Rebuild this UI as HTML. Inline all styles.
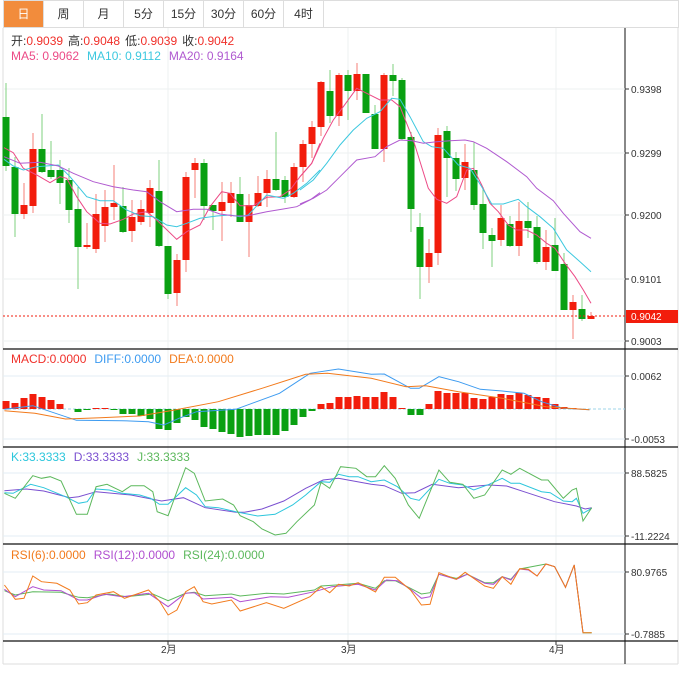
<!DOCTYPE html>
<html><head><meta charset="utf-8"><style>
body{margin:0;background:#fff;width:683px;height:673px;overflow:hidden;font-family:"Liberation Sans","Noto Sans CJK SC",sans-serif}
.tabs{position:absolute;left:3px;top:0;height:27px;display:flex;border-bottom:1px solid #ddd}
.tabs div{width:39px;height:26px;border:1px solid #ddd;border-left:none;text-align:center;line-height:26px;font-size:12px;color:#333;background:#fff}
.tabs div.on{background:#f28c3c;color:#fff}
svg{position:absolute;left:0;top:0}
</style></head><body>
<div class="tabs"><div class="on" style="border-left:1px solid #ddd">日</div><div>周</div><div>月</div><div>5分</div><div>15分</div><div>30分</div><div>60分</div><div>4时</div><div style="width:354px"></div></div>
<svg id="s" width="683" height="673" style="top:0" xmlns="http://www.w3.org/2000/svg" font-family="Liberation Sans, Noto Sans CJK SC, sans-serif" font-size="12"></svg>
<script>
var s=document.getElementById('s'),h='';
function L(x1,y1,x2,y2,c,w,d){h+='<line x1="'+x1+'" y1="'+y1+'" x2="'+x2+'" y2="'+y2+'" stroke="'+c+'" stroke-width="'+(w||1)+'"'+(d?' stroke-dasharray="'+d+'"':'')+'/>';}
function T(x,y,t,c,sz){h+='<text x="'+x+'" y="'+y+'" fill="'+c+'"'+(sz?' font-size="'+sz+'"':'')+'>'+t+'</text>';}
function P(pts,c,sx,ox,sy,oy){h+='<polyline fill="none" stroke="'+c+'" stroke-width="1" points="'+pts.map(function(p){return (ox+p[0]/sx).toFixed(1)+','+(oy+p[1]/sy).toFixed(1)}).join(' ')+'"/>';}
// frame
L(3,28,3,664,'#ddd');L(678,28,678,664,'#ddd');L(3,664,678,664,'#ddd');
L(625,28,625,664,'#111');
[168,348,556].forEach(function(x){L(x,28,x,641,'#eef1f2')});
[89,153,215,279,341].forEach(function(y){L(3,y,625,y,'#eef1f2');L(625,y,629,y,'#333');});
[[89,'0.9398'],[153,'0.9299'],[215,'0.9200'],[279,'0.9101'],[341,'0.9003']].forEach(function(a){T(631,a[0]+4,a[1],'#333',10)});
// candles
var C=[[117,166,83,171,0],[167,214,157,237,0],[205,214,183,219,1],[149,206,133,213,1],[149,172,114,173,0],[170,177,141,179,0],[170,183,160,204,0],[180,210,168,223,0],[209,247,187,289,0],[245,247,223,249,1],[214,249,194,253,1],[207,226,190,242,1],[203,207,165,220,1],[206,232,187,233,0],[217,231,200,242,1],[209,222,200,225,1],[188,213,180,227,1],[191,246,160,247,0],[246,294,246,299,0],[260,293,254,306,1],[177,260,172,272,1],[163,170,158,198,1],[163,206,159,220,0],[205,211,205,230,0],[202,211,182,241,1],[193,203,182,217,1],[194,222,177,222,0],[205,222,194,257,1],[193,206,176,207,1],[179,193,170,207,1],[179,190,132,191,0],[180,197,176,203,0],[167,197,163,198,1],[144,167,140,182,1],[127,144,121,158,1],[82,127,81,136,1],[91,116,70,123,0],[75,116,73,126,1],[75,91,70,120,0],[74,91,63,100,1],[74,113,74,113,0],[114,149,105,149,0],[75,149,73,162,1],[75,81,64,96,0],[80,139,78,140,0],[137,209,132,232,0],[227,267,213,299,0],[253,267,239,283,1],[135,253,128,265,1],[131,158,126,197,0],[158,179,152,191,0],[162,178,144,190,1],[170,205,142,210,0],[204,233,187,249,0],[235,241,228,267,0],[218,240,205,246,1],[224,246,216,247,0],[221,246,202,256,1],[221,228,202,238,0],[227,262,216,264,0],[247,262,230,270,1],[245,271,218,271,0],[264,310,253,310,0],[302,310,295,339,1],[309,319,295,321,0],[316,319,312,319,1]];
C.forEach(function(c,i){var x=6+9*i,col=c[4]?'#f21d0c':'#0aa012',wc=c[4]?'#f57f77':'#7fd07f';
L(x,c[2],x,c[3],wc);h+='<rect x="'+(x-3.5)+'" y="'+c[0]+'" width="7" height="'+Math.max(1.5,c[1]-c[0])+'" fill="'+col+'"/>';});
// MAs
P([[12,263],[40,278],[70,325],[110,345],[150,368],[180,350],[200,355],[230,410],[260,455],[300,490],[330,492],[370,478],[400,462],[440,455],[470,480],[530,538],[560,515],[600,495],[630,440],[665,395],[690,400],[720,437],[760,437],[800,412],[840,410],[870,390],[900,350],[935,310],[960,250]],'#ec4a86',3,0,3,60);
P([[0,350],[35,310],[70,235],[100,180],[130,140],[170,85],[200,100],[240,120],[275,120],[300,140],[340,240],[385,385],[410,418],[440,430],[470,410],[500,330],[520,325],[545,375],[570,430],[595,455],[625,495],[650,510],[680,510],[710,525],[740,550],[765,565],[795,610],[825,650],[850,690],[873,730]],'#ec4a86',3,300,3,60);
P([[12,298],[40,318],[70,330],[110,320],[175,315],[210,350],[260,410],[300,422],[340,422],[380,450],[420,467],[460,470],[500,495],[530,500],[560,490],[600,475],[650,468],[690,465],[720,470],[745,465],[800,405],[850,415],[880,400],[920,370],[960,330]],'#3cc8df',3,0,3,60);
P([[0,390],[40,360],[80,310],[120,255],[160,210],[200,175],[240,155],[275,115],[300,118],[330,170],[370,245],[395,260],[430,265],[475,315],[510,325],[545,380],[575,432],[610,432],[655,418],[680,440],[720,470],[760,505],[800,570],[840,605],[873,635]],'#3cc8df',3,300,3,60);
P([[12,290],[60,310],[120,307],[175,318],[220,340],[280,365],[340,380],[400,390],[440,395],[480,425],[530,455],[580,448],[620,448],[660,462],[700,467],[740,468],[800,455],[850,447],[890,440],[930,420],[960,398]],'#b05ad0',3,0,3,60);
P([[0,432],[40,415],[80,390],[120,350],[170,300],[225,290],[260,260],[300,240],[335,242],[370,250],[410,245],[450,242],[495,240],[520,245],[560,265],[620,305],[680,350],[710,385],[760,422],[790,460],[840,515],[873,535]],'#b05ad0',3,300,3,60);
L(3,316,625,316,'#f21d0c',1,'2,2');
h+='<rect x="626" y="310" width="52" height="13" fill="#f21d0c"/>';T(631,320,'0.9042','#fff',10);
// header text
h+='<text x="11" y="45"><tspan fill="#333">开:</tspan><tspan fill="#f0302a">0.9039</tspan><tspan fill="#333" dx="5">高:</tspan><tspan fill="#f0302a">0.9048</tspan><tspan fill="#333" dx="5">低:</tspan><tspan fill="#f0302a">0.9039</tspan><tspan fill="#333" dx="5">收:</tspan><tspan fill="#f0302a">0.9042</tspan></text>';
h+='<text x="11" y="60"><tspan fill="#ec4a86">MA5: 0.9062</tspan><tspan fill="#3cc8df" dx="8">MA10: 0.9112</tspan><tspan fill="#b05ad0" dx="8">MA20: 0.9164</tspan></text>';
// separators
[349,447,544,641].forEach(function(y){L(3,y,678,y,'#111',1.3)});
// MACD
L(3,376,625,376,'#e3eef4');L(3,439,625,439,'#e3eef4');L(3,409,625,409,'#9fd6ea',1,'3,2');
L(625,376,629,376,'#333');L(625,439,629,439,'#333');
T(631,380,'0.0062','#333',10);T(631,443,'-0.0053','#333',10);
var M=[8,6,11,15,12,9,5,0,-3,-1,1,1,-1,-5,-5,-7,-10,-20,-21,-14,-8,-11,-18,-20,-23,-25,-28,-27,-26,-26,-26,-22,-16,-8,-2,5,6,12,12,13,12,12,17,12,1,-6,-6,5,18,16,16,16,11,10,12,15,14,16,14,12,11,5,2,1,0,0];
M.forEach(function(v,i){if(!v)return;var x=6+9*i;h+='<rect x="'+(x-3.5)+'" y="'+(v>0?409-v:409)+'" width="7" height="'+Math.abs(v)+'" fill="'+(v>0?'#f21d0c':'#0aa012')+'"/>';});
P([[10,193],[75,182],[175,226],[280,227],[340,230],[375,240],[410,220],[450,200],[540,193],[640,145],[710,85],[775,72],[850,88],[880,87],[940,130],[960,130],[1005,95],[1050,110],[1100,133],[1150,138],[1200,145],[1240,170],[1290,190],[1350,194]],'#3d9bf0',2.29,0,3,345);
P([[10,197],[80,205],[150,222],[230,218],[320,213],[400,195],[500,170],[600,130],[700,88],[750,85],[850,100],[930,125],[975,122],[1050,140],[1150,160],[1250,185],[1350,194]],'#f27a1c',2.29,0,3,345);
h+='<text x="11" y="363"><tspan fill="#f0302a">MACD:0.0000</tspan><tspan fill="#3d9bf0" dx="8">DIFF:0.0000</tspan><tspan fill="#f27a1c" dx="8">DEA:0.0000</tspan></text>';
// KDJ
L(3,473,625,473,'#e3eef4');L(3,536,625,536,'#e3eef4');L(625,473,629,473,'#333');L(625,536,629,536,'#333');
T(631,477,'88.5825','#333',10);T(631,540,'-11.2224','#333',10);
P([[10,137],[60,132],[100,138],[160,158],[180,155],[220,140],[300,150],[370,168],[420,158],[470,188],[540,202],[560,202],[600,192],[650,168],[700,130],[740,105],[775,100],[850,118],[880,122],[920,145],[950,143],[990,118],[1050,128],[1100,122],[1120,120],[1160,123],[1200,140],[1270,170],[1320,183],[1340,192],[1355,188]],'#7a4fd0',2.29,0,3,445);
P([[10,143],[30,145],[70,118],[100,128],[150,155],[180,175],[200,170],[220,132],[250,135],[280,145],[320,150],[345,160],[365,178],[385,178],[425,128],[450,150],[470,185],[500,188],[540,200],[590,213],[630,208],[670,180],[700,150],[735,110],[755,112],[775,88],[800,95],[820,95],[850,110],[880,105],[910,125],[940,160],[960,166],[1005,103],[1030,115],[1060,120],[1085,135],[1120,118],[1150,100],[1170,115],[1190,115],[1240,140],[1260,143],[1290,168],[1310,170],[1320,160],[1335,205],[1355,190]],'#2cc6dc',2.29,0,3,445);
P([[10,145],[35,160],[75,92],[95,100],[115,95],[140,108],[175,208],[200,208],[220,125],[245,118],[280,140],[300,122],[330,122],[350,140],[360,200],[385,212],[425,68],[445,85],[470,168],[510,162],[535,180],[550,212],[580,230],[600,252],[630,270],[655,265],[680,230],[720,180],[735,112],[755,130],[780,65],[815,70],[840,95],[860,95],[880,62],[905,100],[935,180],[960,220],[1005,75],[1030,112],[1060,118],[1085,160],[1110,150],[1150,75],[1170,88],[1190,70],[1240,105],[1255,105],[1290,160],[1310,135],[1320,130],[1335,228],[1355,188]],'#5cb85c',2.29,0,3,445);
h+='<text x="11" y="461"><tspan fill="#2cc6dc">K:33.3333</tspan><tspan fill="#7a4fd0" dx="8">D:33.3333</tspan><tspan fill="#5cb85c" dx="8">J:33.3333</tspan></text>';
// RSI
L(3,572,625,572,'#e3eef4');L(3,634,625,634,'#e3eef4');L(625,572,629,572,'#333');L(625,634,629,634,'#333');
T(631,576,'80.9765','#333',10);T(631,638,'-0.7885','#333',10);
P([[10,152],[35,165],[75,155],[140,157],[180,172],[200,173],[250,162],[290,170],[350,162],[385,182],[425,160],[445,157],[470,167],[530,162],[550,168],[610,160],[650,162],[720,150],[735,138],[770,135],[820,130],[860,145],[880,122],[905,122],[940,145],[965,162],[985,158],[1005,103],[1045,115],[1070,103],[1110,128],[1130,128],[1150,110],[1170,118],[1190,87],[1250,72],[1270,80],[1295,142],[1315,75],[1335,278],[1355,278]],'#5cb85c',2.29,0,3,540);
P([[10,148],[35,170],[75,140],[100,150],[140,152],[180,180],[200,180],[240,163],[280,170],[340,160],[385,200],[425,160],[445,158],[465,177],[530,172],[550,185],[620,170],[660,172],[720,155],[760,140],[820,133],[860,150],[885,120],[910,122],[940,148],[965,175],[985,170],[1005,103],[1045,118],[1070,103],[1110,130],[1130,133],[1150,110],[1170,120],[1190,87],[1210,90],[1230,108],[1250,72],[1270,80],[1295,142],[1315,75],[1335,278]],'#b04fd0',2.29,0,3,540);
P([[10,135],[35,178],[55,175],[75,108],[95,125],[130,130],[160,150],[180,192],[200,188],[220,165],[260,155],[285,175],[340,150],[365,183],[385,225],[405,210],[425,155],[445,140],[465,185],[485,192],[530,180],[550,213],[610,188],[650,205],[710,170],[735,140],[755,158],[775,133],[800,138],[820,128],[860,156],[880,112],[905,112],[940,150],[965,195],[985,193],[1005,98],[1045,118],[1065,97],[1110,138],[1130,145],[1150,110],[1170,133],[1190,86],[1210,88],[1230,108],[1250,72],[1270,80],[1295,142],[1315,75],[1335,278],[1355,278]],'#f27a1c',2.29,0,3,540);
h+='<text x="11" y="559"><tspan fill="#f27a1c">RSI(6):0.0000</tspan><tspan fill="#b04fd0" dx="8">RSI(12):0.0000</tspan><tspan fill="#5cb85c" dx="8">RSI(24):0.0000</tspan></text>';
[[168,'2月'],[348,'3月'],[556,'4月']].forEach(function(a){L(a[0],641,a[0],645,'#333');T(a[0]-7,653,a[1],'#333',10)});
s.innerHTML=h;
</script>
</body></html>
